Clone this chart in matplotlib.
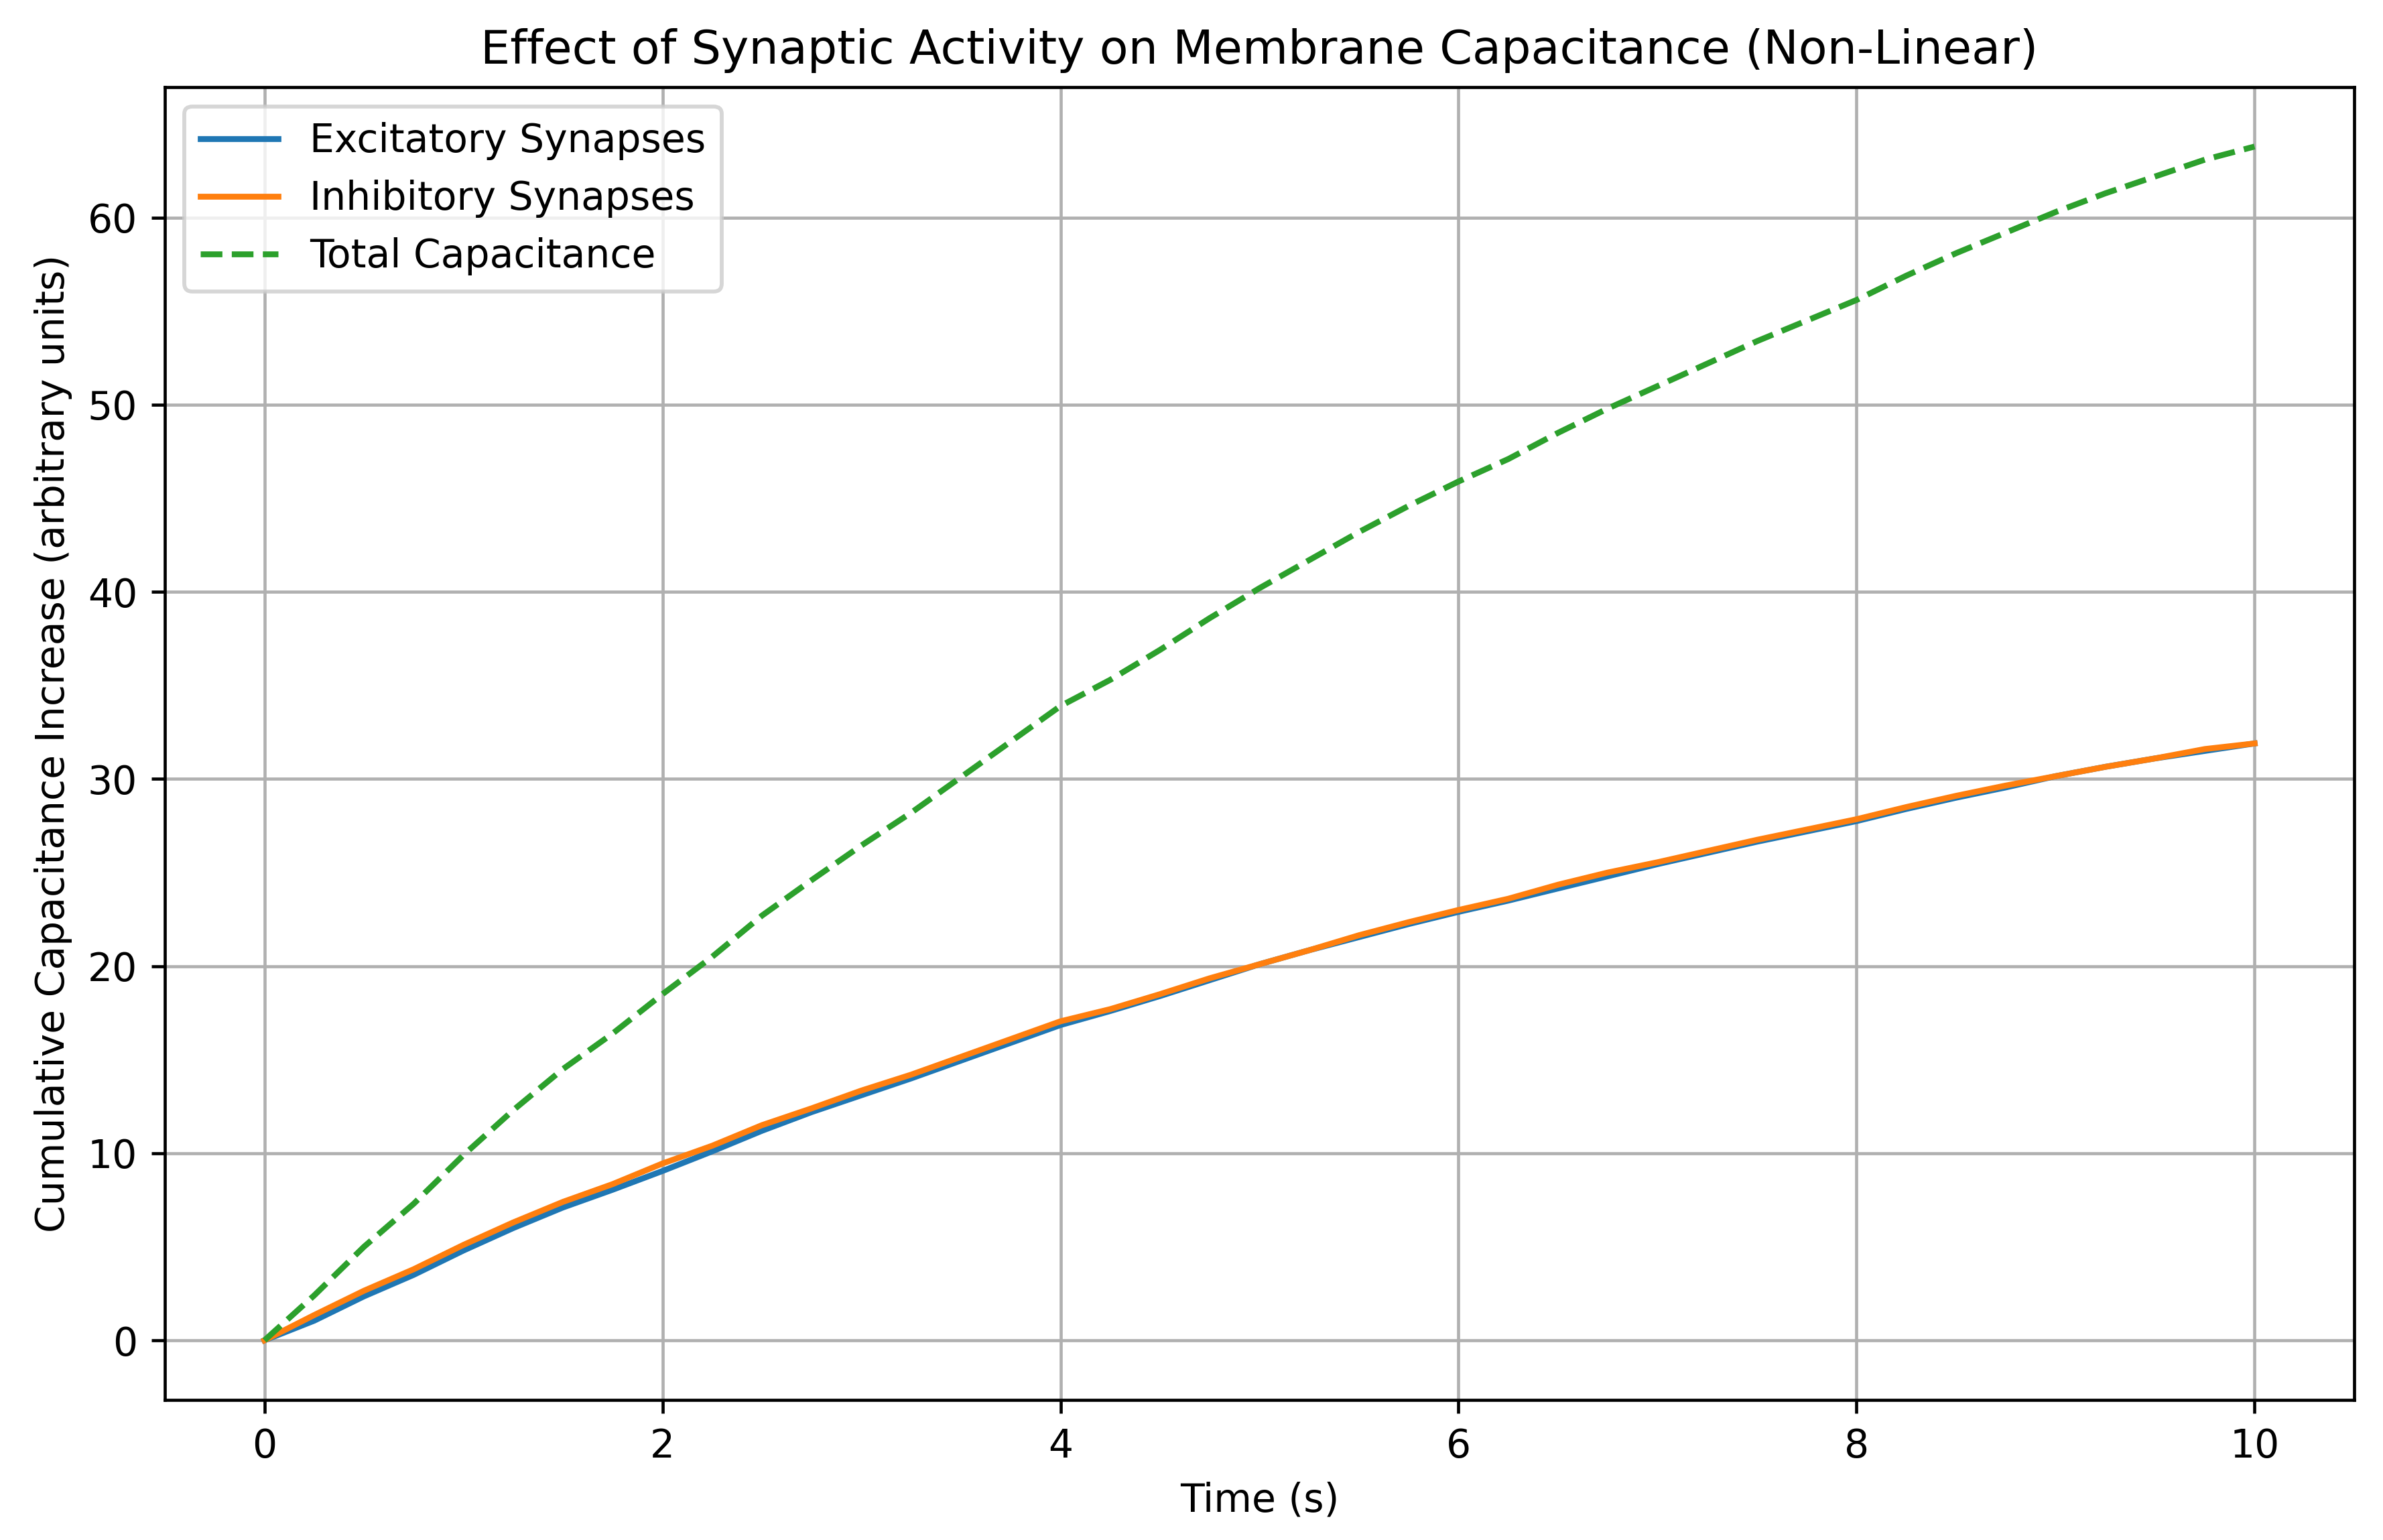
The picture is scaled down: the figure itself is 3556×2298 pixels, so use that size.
import matplotlib
matplotlib.use("Agg")
import matplotlib.pyplot as plt
import numpy as np

# time axis (s) and values
time_s = [0.0, 0.25, 0.5, 0.75, 1.0, 1.25, 1.5, 1.75, 2.0, 2.25, 2.5,
          2.75, 3.0, 3.25, 3.5, 3.75, 4.0, 4.25, 4.5, 4.75, 5.0,
          5.25, 5.5, 5.75, 6.0, 6.25, 6.5, 6.75, 7.0, 7.25, 7.5,
          7.75, 8.0, 8.25, 8.5, 8.75, 9.0, 9.25, 9.5, 9.75, 10.0]

excitatory = [0.0, 1.05, 2.35, 3.5, 4.8, 6.0, 7.1, 8.05, 9.05, 10.1, 11.2,
              12.2, 13.1, 14.0, 14.95, 15.9, 16.85, 17.6, 18.4, 19.25, 20.1,
              20.85, 21.55, 22.25, 22.9, 23.5, 24.15, 24.8, 25.45, 26.05, 26.65,
              27.2, 27.75, 28.4, 29.0, 29.55, 30.15, 30.65, 31.1, 31.5, 31.9]

inhibitory = [0.0, 1.35, 2.65, 3.8, 5.1, 6.3, 7.4, 8.35, 9.45, 10.4, 11.5,
              12.4, 13.35, 14.2, 15.15, 16.1, 17.05, 17.7, 18.5, 19.35, 20.1,
              20.85, 21.65, 22.35, 23.0, 23.6, 24.35, 25.0, 25.55, 26.15, 26.75,
              27.3, 27.85, 28.5, 29.1, 29.65, 30.15, 30.65, 31.1, 31.6, 31.9]

total = np.array(excitatory) + np.array(inhibitory)

DPI = 420
fig = plt.figure(figsize=(3557 / DPI, 2298 / DPI), dpi=DPI)
ax = fig.add_axes([0.0692, 0.0909, 0.9184, 0.8527])

ax.plot(time_s, excitatory, label='Excitatory Synapses')
ax.plot(time_s, inhibitory, label='Inhibitory Synapses')
ax.plot(time_s, total, '--', label='Total Capacitance')

ax.set_title('Effect of Synaptic Activity on Membrane Capacitance (Non-Linear)')
ax.set_xlabel('Time (s)')
ax.set_ylabel('Cumulative Capacitance Increase (arbitrary units)')
ax.legend(loc='upper left')
ax.grid(True)

fig.savefig('out.png', dpi=DPI)
